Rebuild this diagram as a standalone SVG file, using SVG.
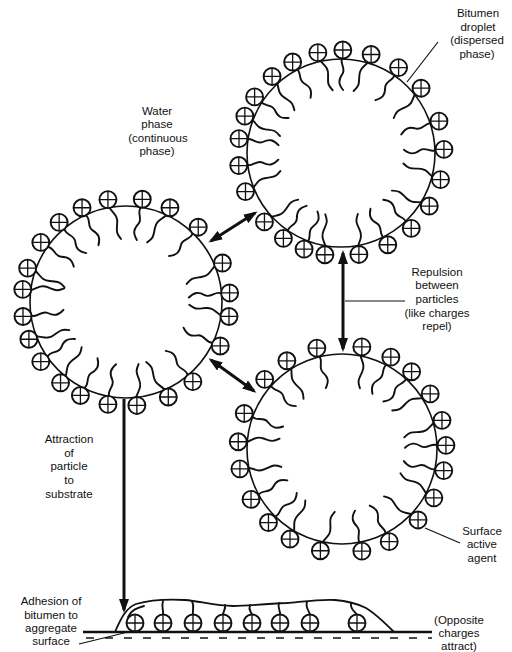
<svg xmlns="http://www.w3.org/2000/svg" xmlns:xlink="http://www.w3.org/1999/xlink" width="512" height="652" viewBox="0 0 512 652">
  <style>
    .drop { fill: none; stroke: #111; stroke-width: 1.6; }
    .tail { fill: none; stroke: #111; stroke-width: 1.9; stroke-linecap: round; }
    .kc { fill: #fff; stroke: #111; stroke-width: 1.9; }
    .kp { fill: none; stroke: #111; stroke-width: 1.3; }
    .arrow { fill: none; stroke: #111; stroke-width: 3; }
    .leader { fill: none; stroke: #111; stroke-width: 1.2; }
    .ground { fill: none; stroke: #111; stroke-width: 2.6; }
    .neg { fill: none; stroke: #111; stroke-width: 1.5; stroke-dasharray: 8 11; }
    .film { fill: #fff; stroke: #111; stroke-width: 1.8; }
    text { font-family: "Liberation Sans", Arial, sans-serif; font-size: 11.5px; fill: #111; text-anchor: middle; }
  </style>
  <defs>
    <!-- positively charged head group of the surfactant -->
    <g id="knob">
      <circle class="kc" r="8.5"/>
      <path class="kp" d="M-8.5,0H8.5M0,-8.5V8.5"/>
    </g>
    <!-- hydrocarbon tails, drawn pointing up from a droplet centre -->
    <path id="t1" class="tail" d="M0,-96 c-4,6 4,11 0,17 s-4,10 1,16"/>
    <path id="t2" class="tail" d="M0,-96 c4,6 -4,11 0,17 s4,10 -1,16"/>
    <path id="t3" class="tail" d="M0,-96 c-3,7 -7,9 -5,17 s3,9 -1,16"/>
    <path id="t4" class="tail" d="M0,-96 c3,7 7,9 5,17 s-3,9 1,16"/>
    <marker id="head" viewBox="0 0 14 10" markerUnits="userSpaceOnUse" markerWidth="14" markerHeight="10" refX="11" refY="5" orient="auto-start-reverse">
      <path d="M0,0 L14,5 L0,10 z" fill="#111"/>
    </marker>
  </defs>

  <!-- droplet on the left -->
  <g id="droplet-a" transform="translate(126,302)">
    <circle class="drop" r="96"/>
    <g transform="rotate(-40)"><use href="#t1"/><use href="#knob" transform="translate(0,-104) rotate(40)"/></g>
    <g transform="rotate(-55)"><use href="#t2"/><use href="#knob" transform="translate(0,-104) rotate(55)"/></g>
    <g transform="rotate(-71)"><use href="#t3"/><use href="#knob" transform="translate(0,-104) rotate(71)"/></g>
    <g transform="rotate(-83)"><use href="#t4"/><use href="#knob" transform="translate(0,-104) rotate(83)"/></g>
    <g transform="rotate(262)"><use href="#t1"/><use href="#knob" transform="translate(0,-104) rotate(-262)"/></g>
    <g transform="rotate(249)"><use href="#t3"/><use href="#knob" transform="translate(0,-104) rotate(-249)"/></g>
    <g transform="rotate(235)"><use href="#t2"/><use href="#knob" transform="translate(0,-104) rotate(-235)"/></g>
    <g transform="rotate(219)"><use href="#t4"/><use href="#knob" transform="translate(0,-104) rotate(-219)"/></g>
    <g transform="rotate(206)"><use href="#t1"/><use href="#knob" transform="translate(0,-104) rotate(-206)"/></g>
    <g transform="rotate(190)"><use href="#t2"/><use href="#knob" transform="translate(0,-104) rotate(-190)"/></g>
    <g transform="rotate(174)"><use href="#t3"/><use href="#knob" transform="translate(0,-104) rotate(-174)"/></g>
    <g transform="rotate(156)"><use href="#t4"/><use href="#knob" transform="translate(0,-104) rotate(-156)"/></g>
    <g transform="rotate(140)"><use href="#t1"/><use href="#knob" transform="translate(0,-104) rotate(-140)"/></g>
    <g transform="rotate(115)"><use href="#t2"/><use href="#knob" transform="translate(0,-104) rotate(-115)"/></g>
    <g transform="rotate(98)"><use href="#t3"/><use href="#knob" transform="translate(0,-104) rotate(-98)"/></g>
    <g transform="rotate(85)"><use href="#t1"/><use href="#knob" transform="translate(0,-104) rotate(-85)"/></g>
    <g transform="rotate(68)"><use href="#t4"/><use href="#knob" transform="translate(0,-104) rotate(-68)"/></g>
    <g transform="rotate(44)"><use href="#t2"/><use href="#knob" transform="translate(0,-104) rotate(-44)"/></g>
    <g transform="rotate(25)"><use href="#t3"/><use href="#knob" transform="translate(0,-104) rotate(-25)"/></g>
    <g transform="rotate(9)"><use href="#t1"/><use href="#knob" transform="translate(0,-104) rotate(-9)"/></g>
    <g transform="rotate(-10)"><use href="#t4"/><use href="#knob" transform="translate(0,-104) rotate(10)"/></g>
    <g transform="rotate(-25)"><use href="#t2"/><use href="#knob" transform="translate(0,-104) rotate(25)"/></g>
  </g>

  <!-- droplet at the top right -->
  <g id="droplet-b" transform="translate(341,153)">
    <circle class="drop" r="94"/>
    <g transform="rotate(-57)"><use href="#t1"/><use href="#knob" transform="translate(0,-103) rotate(57)"/></g>
    <g transform="rotate(-42)"><use href="#t3"/><use href="#knob" transform="translate(0,-103) rotate(42)"/></g>
    <g transform="rotate(-28)"><use href="#t2"/><use href="#knob" transform="translate(0,-103) rotate(28)"/></g>
    <g transform="rotate(-13)"><use href="#t4"/><use href="#knob" transform="translate(0,-103) rotate(13)"/></g>
    <g transform="rotate(1)"><use href="#t1"/><use href="#knob" transform="translate(0,-103) rotate(-1)"/></g>
    <g transform="rotate(17)"><use href="#t3"/><use href="#knob" transform="translate(0,-103) rotate(-17)"/></g>
    <g transform="rotate(34)"><use href="#t2"/><use href="#knob" transform="translate(0,-103) rotate(-34)"/></g>
    <g transform="rotate(51)"><use href="#t4"/><use href="#knob" transform="translate(0,-103) rotate(-51)"/></g>
    <g transform="rotate(72)"><use href="#t1"/><use href="#knob" transform="translate(0,-103) rotate(-72)"/></g>
    <g transform="rotate(88)"><use href="#t2"/><use href="#knob" transform="translate(0,-103) rotate(-88)"/></g>
    <g transform="rotate(105)"><use href="#t3"/><use href="#knob" transform="translate(0,-103) rotate(-105)"/></g>
    <g transform="rotate(121)"><use href="#t4"/><use href="#knob" transform="translate(0,-103) rotate(-121)"/></g>
    <g transform="rotate(137)"><use href="#t1"/><use href="#knob" transform="translate(0,-103) rotate(-137)"/></g>
    <g transform="rotate(153)"><use href="#t2"/><use href="#knob" transform="translate(0,-103) rotate(-153)"/></g>
    <g transform="rotate(170)"><use href="#t3"/><use href="#knob" transform="translate(0,-103) rotate(-170)"/></g>
    <g transform="rotate(189)"><use href="#t4"/><use href="#knob" transform="translate(0,-103) rotate(-189)"/></g>
    <g transform="rotate(201)"><use href="#t1"/><use href="#knob" transform="translate(0,-103) rotate(-201)"/></g>
    <g transform="rotate(214)"><use href="#t2"/><use href="#knob" transform="translate(0,-103) rotate(-214)"/></g>
    <g transform="rotate(228)"><use href="#t3"/><use href="#knob" transform="translate(0,-103) rotate(-228)"/></g>
    <g transform="rotate(248)"><use href="#t4"/><use href="#knob" transform="translate(0,-103) rotate(-248)"/></g>
    <g transform="rotate(263)"><use href="#t1"/><use href="#knob" transform="translate(0,-103) rotate(-263)"/></g>
    <g transform="rotate(278)"><use href="#t2"/><use href="#knob" transform="translate(0,-103) rotate(-278)"/></g>
    <g transform="rotate(291)"><use href="#t3"/><use href="#knob" transform="translate(0,-103) rotate(-291)"/></g>
  </g>

  <!-- droplet at the bottom right -->
  <g id="droplet-c" transform="translate(342,449)">
    <circle class="drop" r="95"/>
    <g transform="rotate(-48)"><use href="#t1"/><use href="#knob" transform="translate(0,-104) rotate(48)"/></g>
    <g transform="rotate(-32)"><use href="#t3"/><use href="#knob" transform="translate(0,-104) rotate(32)"/></g>
    <g transform="rotate(-14)"><use href="#t2"/><use href="#knob" transform="translate(0,-104) rotate(14)"/></g>
    <g transform="rotate(11)"><use href="#t4"/><use href="#knob" transform="translate(0,-104) rotate(-11)"/></g>
    <g transform="rotate(28)"><use href="#t1"/><use href="#knob" transform="translate(0,-104) rotate(-28)"/></g>
    <g transform="rotate(42)"><use href="#t2"/><use href="#knob" transform="translate(0,-104) rotate(-42)"/></g>
    <g transform="rotate(58)"><use href="#t3"/><use href="#knob" transform="translate(0,-104) rotate(-58)"/></g>
    <g transform="rotate(74)"><use href="#t4"/><use href="#knob" transform="translate(0,-104) rotate(-74)"/></g>
    <g transform="rotate(88)"><use href="#t1"/><use href="#knob" transform="translate(0,-104) rotate(-88)"/></g>
    <g transform="rotate(102)"><use href="#t2"/><use href="#knob" transform="translate(0,-104) rotate(-102)"/></g>
    <g transform="rotate(118)"><use href="#t3"/><use href="#knob" transform="translate(0,-104) rotate(-118)"/></g>
    <g transform="rotate(133)"><use href="#t4"/><use href="#knob" transform="translate(0,-104) rotate(-133)"/></g>
    <g transform="rotate(153)"><use href="#t1"/><use href="#knob" transform="translate(0,-104) rotate(-153)"/></g>
    <g transform="rotate(169)"><use href="#t2"/><use href="#knob" transform="translate(0,-104) rotate(-169)"/></g>
    <g transform="rotate(192)"><use href="#t3"/><use href="#knob" transform="translate(0,-104) rotate(-192)"/></g>
    <g transform="rotate(210)"><use href="#t4"/><use href="#knob" transform="translate(0,-104) rotate(-210)"/></g>
    <g transform="rotate(225)"><use href="#t1"/><use href="#knob" transform="translate(0,-104) rotate(-225)"/></g>
    <g transform="rotate(241)"><use href="#t2"/><use href="#knob" transform="translate(0,-104) rotate(-241)"/></g>
    <g transform="rotate(259)"><use href="#t3"/><use href="#knob" transform="translate(0,-104) rotate(-259)"/></g>
    <g transform="rotate(274)"><use href="#t4"/><use href="#knob" transform="translate(0,-104) rotate(-274)"/></g>
    <g transform="rotate(290)"><use href="#t1"/><use href="#knob" transform="translate(0,-104) rotate(-290)"/></g>
  </g>

  <!-- aggregate surface with the adhered bitumen film -->
  <g id="substrate">
    <path class="film" d="M115,632 C121,618 126,608 136,604 C150,600 168,599 185,600 C200,601 215,606 233,606 C248,606 260,604 287,603 C300,602 320,599 335,600 C348,601 358,604 366,608 C376,614 384,622 394,632 Z"/>
    <path class="tail" d="M128,617 c3,-7 9,-9 16,-11"/>
    <path class="tail" d="M163,615 c1,-4 -2,-8 0,-14"/>
    <path class="tail" d="M193,615 c-1,-4 2,-8 -1,-14"/>
    <path class="tail" d="M223,615 c0,-4 3,-6 2,-10"/>
    <path class="tail" d="M252,615 c-1,-4 -4,-5 -2,-10"/>
    <path class="tail" d="M280,615 c1,-4 -3,-7 -1,-12"/>
    <path class="tail" d="M310,615 c-1,-5 -5,-7 -3,-13"/>
    <path class="tail" d="M357,615 c-2,-4 -7,-5 -6,-12"/>
    <use href="#knob" transform="translate(135,623)"/>
    <use href="#knob" transform="translate(163,623)"/>
    <use href="#knob" transform="translate(193,623)"/>
    <use href="#knob" transform="translate(223,623)"/>
    <use href="#knob" transform="translate(252,623)"/>
    <use href="#knob" transform="translate(280,623)"/>
    <use href="#knob" transform="translate(310,623)"/>
    <use href="#knob" transform="translate(357,623)"/>
    <path class="ground" d="M83,632H432"/>
    <path class="neg" d="M86,638H432"/>
  </g>

  <!-- arrows and label leaders -->
  <g id="connectors">
    <path class="arrow" d="M211,241 L255,213" marker-start="url(#head)" marker-end="url(#head)"/>
    <path class="arrow" d="M211,360 L254,391" marker-start="url(#head)" marker-end="url(#head)"/>
    <path class="arrow" d="M343,253 V349" marker-start="url(#head)" marker-end="url(#head)"/>
    <path class="arrow" d="M124,399 V610" marker-end="url(#head)"/>
    <path class="leader" d="M407,82 L438,42"/>
    <path class="leader" d="M345,301 H405"/>
    <path class="leader" d="M425,528 L460,543"/>
    <path class="leader" d="M79,644 L128,632"/>
  </g>

  <g id="labels">
    <text x="478" y="17">Bitumen</text>
    <text x="478" y="31">droplet</text>
    <text x="477" y="44">(dispersed</text>
    <text x="477" y="58">phase)</text>

    <text x="157" y="115">Water</text>
    <text x="157" y="128">phase</text>
    <text x="158" y="142">(continuous</text>
    <text x="157" y="155">phase)</text>

    <text x="437" y="276">Repulsion</text>
    <text x="437" y="289">between</text>
    <text x="437" y="303">particles</text>
    <text x="437" y="317">(like charges</text>
    <text x="437" y="330">repel)</text>

    <text x="482" y="535">Surface</text>
    <text x="482" y="548">active</text>
    <text x="482" y="562">agent</text>

    <text x="69" y="443">Attraction</text>
    <text x="69" y="457">of</text>
    <text x="69" y="470">particle</text>
    <text x="69" y="484">to</text>
    <text x="69" y="498">substrate</text>

    <text x="51" y="605">Adhesion of</text>
    <text x="51" y="619">bitumen to</text>
    <text x="51" y="632">aggregate</text>
    <text x="51" y="645">surface</text>

    <text x="459" y="624">(Opposite</text>
    <text x="459" y="637">charges</text>
    <text x="459" y="650">attract)</text>
  </g>
</svg>
